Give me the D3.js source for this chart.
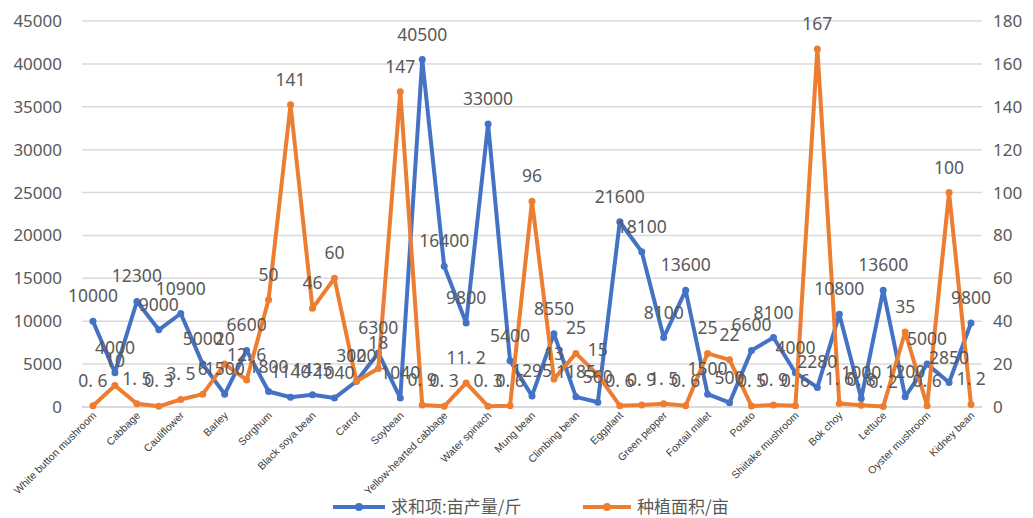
<!DOCTYPE html>
<html>
<head>
<meta charset="utf-8">
<script src="https://cdn.jsdelivr.net/npm/d3@7"></script>
<style>
  html, body { margin: 0; padding: 0; background: #fff; }
  svg { display: block; }
</style>
</head>
<body>
<svg id="chart" width="1033" height="518"></svg>
<script>
// Crop names shown under every second point
const tickLabels = [
  "White button mushroom", "Cabbage", "Cauliflower", "Barley", "Sorghum",
  "Black soya bean", "Carrot", "Soybean", "Yellow-hearted cabbage", "Water spinach",
  "Mung bean", "Climbing bean", "Eggplant", "Green pepper", "Foxtail millet",
  "Potato", "Shiitake mushroom", "Bok choy", "Lettuce", "Oyster mushroom", "Kidney bean"
];

// 求和项:亩产量/斤 (left axis)
const yieldPerMu = [
  10000, 4000, 12300, 9000, 10900, 5000, 1500, 6600, 1800, 1140,
  1425, 1040, 3000, 6300, 1040, 40500, 16400, 9800, 33000, 5400,
  1295, 8550, 1185, 560, 21600, 18100, 8100, 13600, 1500, 500,
  6600, 8100, 4000, 2280, 10800, 1000, 13600, 1200, 5000, 2850, 9800
];

// 种植面积/亩 (right axis)
const plantedArea = [
  0.6, 10, 1.5, 0.3, 3.5, 6, 20, 12.6, 50, 141,
  46, 60, 12, 18, 147, 0.9, 0.3, 11.2, 0.3, 0.6,
  96, 13, 25, 15, 0.6, 0.9, 1.5, 0.6, 25, 22,
  0.5, 0.9, 0.6, 167, 1.6, 0.8, 0.2, 35, 0.6, 100, 1.2
];

const leftTicks = [0, 5000, 10000, 15000, 20000, 25000, 30000, 35000, 40000, 45000];
const rightTicks = [0, 20, 40, 60, 80, 100, 120, 140, 160, 180];

const seriesNames = ["求和项:亩产量/斤", "种植面积/亩"];
const colors = ["#4472C4", "#ED7D31"];

const svg = d3.select("#chart");
const plot = { left: 82, right: 982, top: 21, bottom: 407 };

const n = yieldPerMu.length;
const x = d3.scaleBand().domain(d3.range(n)).range([plot.left, plot.right]);
const cx = i => x(i) + x.bandwidth() / 2;
const yL = d3.scaleLinear().domain([0, 45000]).range([plot.bottom, plot.top]);
const yR = d3.scaleLinear().domain([0, 180]).range([plot.bottom, plot.top]);

const textColor = "#595959";
const numFont = "'Noto Sans', 'DejaVu Sans', sans-serif";

// Horizontal gridlines
svg.append("g")
  .selectAll("line")
  .data(leftTicks)
  .join("line")
  .attr("x1", plot.left).attr("x2", plot.right)
  .attr("y1", d => yL(d)).attr("y2", d => yL(d))
  .attr("stroke", d => d === 0 ? "#cfcfcf" : "#dadada")
  .attr("stroke-width", 1.5);

// Left axis
const leftAxis = svg.append("g")
  .attr("transform", `translate(${plot.left},0)`)
  .call(d3.axisLeft(yL).tickValues(leftTicks).tickSize(0).tickPadding(20).tickFormat(d3.format("d")));
leftAxis.select(".domain").remove();
leftAxis.selectAll("text")
  .attr("fill", textColor).style("font-size", "17px").style("font-family", numFont);

// Right axis
const rightAxis = svg.append("g")
  .attr("transform", `translate(${plot.right},0)`)
  .call(d3.axisRight(yR).tickValues(rightTicks).tickSize(0).tickPadding(11).tickFormat(d3.format("d")));
rightAxis.select(".domain").remove();
rightAxis.selectAll("text")
  .attr("fill", textColor).style("font-size", "17px").style("font-family", numFont);

// Category labels, rotated, every second point
const xAxis = svg.append("g")
  .attr("transform", `translate(0,${plot.bottom})`)
  .call(d3.axisBottom(x)
    .tickValues(d3.range(0, n, 2))
    .tickSize(0)
    .tickFormat(i => tickLabels[i / 2]));
xAxis.select(".domain").remove();
xAxis.selectAll("text")
  .attr("fill", "#404040")
  .style("font-size", "10.5px")
  .style("font-family", "'Liberation Sans Narrow', 'Liberation Sans', sans-serif")
  .attr("text-anchor", "end")
  .attr("dy", null)
  .attr("y", 0)
  .attr("transform", "translate(4,9) rotate(-45)");

// Lines with markers
const series = [
  { values: yieldPerMu, y: yL, color: colors[0] },
  { values: plantedArea, y: yR, color: colors[1] }
];

series.forEach(s => {
  const line = d3.line().x((d, i) => cx(i)).y(d => s.y(d));
  svg.append("path")
    .datum(s.values)
    .attr("d", line)
    .attr("fill", "none")
    .attr("stroke", s.color)
    .attr("stroke-width", 4)
    .attr("stroke-linejoin", "round")
    .attr("stroke-linecap", "round");
  svg.append("g")
    .selectAll("circle")
    .data(s.values)
    .join("circle")
    .attr("cx", (d, i) => cx(i))
    .attr("cy", d => s.y(d))
    .attr("r", 3.5)
    .attr("fill", s.color);
});

// Value labels above each point
const fmt = v => Number.isInteger(v) ? String(v) : String(v).replace(".", ". ");
series.forEach(s => {
  svg.append("g")
    .selectAll("text")
    .data(s.values)
    .join("text")
    .attr("x", (d, i) => cx(i))
    .attr("y", d => s.y(d) - 19)
    .attr("text-anchor", "middle")
    .attr("fill", "#595959")
    .style("font-size", "17.5px")
    .style("font-family", numFont)
    .text(d => fmt(d));
});

// Legend
const legend = svg.append("g").attr("transform", "translate(0,507)");
const legendItems = [
  { x0: 333, x1: 385, tx: 391 },
  { x0: 583, x1: 631, tx: 637 }
];
legendItems.forEach((it, k) => {
  legend.append("line")
    .attr("x1", it.x0).attr("x2", it.x1)
    .attr("y1", 0).attr("y2", 0)
    .attr("stroke", colors[k]).attr("stroke-width", 4);
  legend.append("circle")
    .attr("cx", (it.x0 + it.x1) / 2).attr("cy", 0).attr("r", 4)
    .attr("fill", colors[k]);
  legend.append("text")
    .attr("x", it.tx).attr("y", 0).attr("dy", "0.35em")
    .attr("fill", textColor)
    .style("font-size", "17px")
    .style("font-family", "'Noto Sans CJK SC', sans-serif")
    .text(seriesNames[k]);
});
</script>
</body>
</html>
